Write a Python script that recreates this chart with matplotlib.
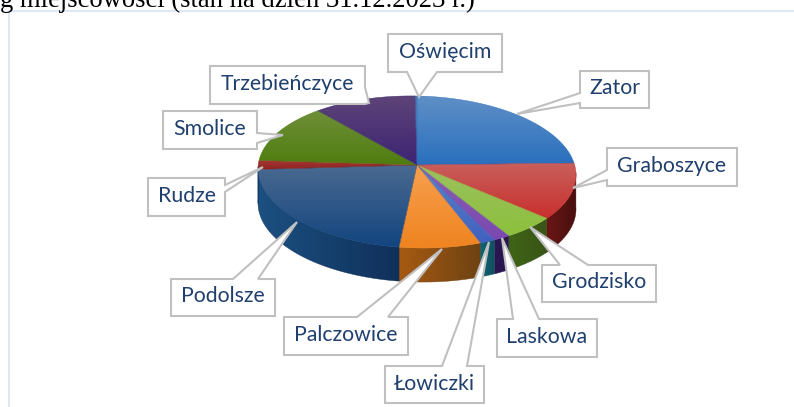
import numpy as np
import matplotlib
matplotlib.use("Agg")
import matplotlib.pyplot as plt
from matplotlib.patches import Polygon

# Data (estimated shares, %)
names = ["Oświęcim", "Zator", "Graboszyce", "Grodzisko", "Laskowa", "Łowiczki",
         "Palczowice", "Podolsze", "Rudze", "Smolice", "Trzebieńczyce"]
values = [0.2, 22.5, 12.3, 5.4, 1.7, 1.6, 8.3, 23.1, 1.9, 12.5, 10.5]
top_a = ["#4f81bd", "#5f8fc6", "#c8605c", "#9cc060", "#8a5fb0", "#5a86c8",
         "#f7a050", "#4a6a90", "#a83a36", "#6f8f38", "#5f4478"]
top_b = ["#3f75b5", "#2a6fbe", "#c9302e", "#8cc03c", "#7a48b0", "#4060c0",
         "#ef8420", "#13457f", "#8f2420", "#4f7d10", "#3c2474"]
side_a = ["#1a4060"] * 2 + ["#6a1616", "#3f6418", "#2a1650", "#0f6475",
          "#a65a12", "#1b5080", "#1b5080", "#1b5080", "#1b5080"]
side_b = ["#1a4060"] * 2 + ["#480f0f", "#3a5516", "#2a1650", "#10505e",
          "#6e4212", "#10305a", "#10305a", "#10305a", "#10305a"]

title = "g miejscowości (stan na dzień 31.12.2023 r.)"

# (left, top, right, bottom), callout tip, callout base
labels = {
    "Oświęcim": ((388, 34, 502, 72), (419, 97), ("b", 407, 437)),
    "Zator": ((580, 71, 649, 108), (517, 114), ("l", 93, 103)),
    "Graboszyce": ((607, 148, 737, 186), (573, 188), ("l", 170, 180)),
    "Trzebieńczyce": ((210, 66, 365, 104), (369, 103), ("r", 87, 104)),
    "Smolice": ((163, 111, 257, 149), (283, 135), ("r", 133, 143)),
    "Rudze": ((148, 178, 225, 216), (263, 167), ("r", 185, 192)),
    "Podolsze": ((171, 279, 275, 316), (297, 222), ("t", 233, 258)),
    "Palczowice": ((284, 317, 408, 355), (442, 249), ("t", 357, 388)),
    "Łowiczki": ((385, 366, 484, 403), (489, 242), ("t", 442, 467)),
    "Laskowa": ((497, 319, 597, 357), (502, 238), ("t", 513, 539)),
    "Grodzisko": ((542, 265, 656, 302), (530, 227), ("t", 560, 588)),
}

CX, CY, A, B, DEPTH, TILT = 417, 172, 159, 76, 34, 3
APEX = (417, 165)

fig = plt.figure(figsize=(7.94, 4.07), dpi=100)
ax = fig.add_axes([0, 0, 1, 1])
ax.set_xlim(0, 794)
ax.set_ylim(407, 0)
ax.axis("off")


def rim(t, drop=0):
    r = np.radians(t)
    return CX + A * np.sin(r), CY + TILT * np.sin(r) - B * np.cos(r) + drop


def grad_fill(pts, c0, c1, horizontal=False, z=2):
    pts = np.asarray(pts)
    x0, x1 = pts[:, 0].min(), pts[:, 0].max()
    y0, y1 = pts[:, 1].min(), pts[:, 1].max()
    rgb0 = np.array(matplotlib.colors.to_rgb(c0))
    rgb1 = np.array(matplotlib.colors.to_rgb(c1))
    f = np.linspace(0, 1, 64)
    g = rgb0[None, :] * (1 - f[:, None]) + rgb1[None, :] * f[:, None]
    g = g[None, :, :] if horizontal else g[:, None, :]
    im = ax.imshow(g, extent=(x0, x1, y1, y0), aspect="auto", zorder=z,
                   interpolation="bilinear")
    clip = Polygon(pts, closed=True, transform=ax.transData)
    im.set_clip_path(clip)
    ax.fill(pts[:, 0], pts[:, 1], facecolor="none", edgecolor=c1, lw=0.3,
            zorder=z + 0.1)


edges = -0.72 + np.concatenate([[0], np.cumsum(values)]) * 360 / np.sum(values)

# Side wall
for i in range(len(values)):
    lo, hi = max(edges[i], 88), min(edges[i + 1], 272)
    if hi <= lo:
        continue
    t = np.linspace(lo, hi, 60)
    xa, ya = rim(t)
    xb, yb = rim(t[::-1], DEPTH)
    pts = np.column_stack([np.r_[xa, xb], np.r_[ya, yb]])
    grad_fill(pts, side_a[i], side_b[i], horizontal=True, z=2)

# Top face
for i in range(len(values)):
    t = np.linspace(edges[i], edges[i + 1], 60)
    xa, ya = rim(t)
    pts = np.column_stack([np.r_[APEX[0], xa], np.r_[APEX[1], ya]])
    grad_fill(pts, top_a[i], top_b[i], z=3)

# Callouts
for name in names:
    (l, t, r, b), tip, (side, p, q) = labels[name]
    if side == "t":
        poly = [(l, t), (p, t), tip, (q, t), (r, t), (r, b), (l, b)]
    elif side == "b":
        poly = [(l, t), (r, t), (r, b), (q, b), tip, (p, b), (l, b)]
    elif side == "l":
        poly = [(l, t), (r, t), (r, b), (l, b), (l, q), tip, (l, p)]
    else:
        poly = [(l, t), (r, t), (r, p), tip, (r, q), (r, b), (l, b)]
    ax.add_patch(Polygon(poly, closed=True, facecolor="white", edgecolor="#c0c0c0",
                         lw=1.5, zorder=5, joinstyle="miter"))
    ax.text((l + r) / 2, (t + b) / 2 - 1, name, ha="center", va="center",
            fontsize=15.3, family="Lato", color="#1f3f6e", zorder=6)

# Frame and clipped heading
ax.plot([9, 9], [11, 407], color="#dbe5f5", lw=1.3, zorder=1)
ax.plot([9, 794], [11, 11], color="#dbe5f5", lw=1.3, zorder=1)
ax.text(0, 7, title, ha="left", va="baseline", fontsize=19.2,
        family="Liberation Serif", color="black", zorder=6)

fig.savefig("out.png", dpi=100)
